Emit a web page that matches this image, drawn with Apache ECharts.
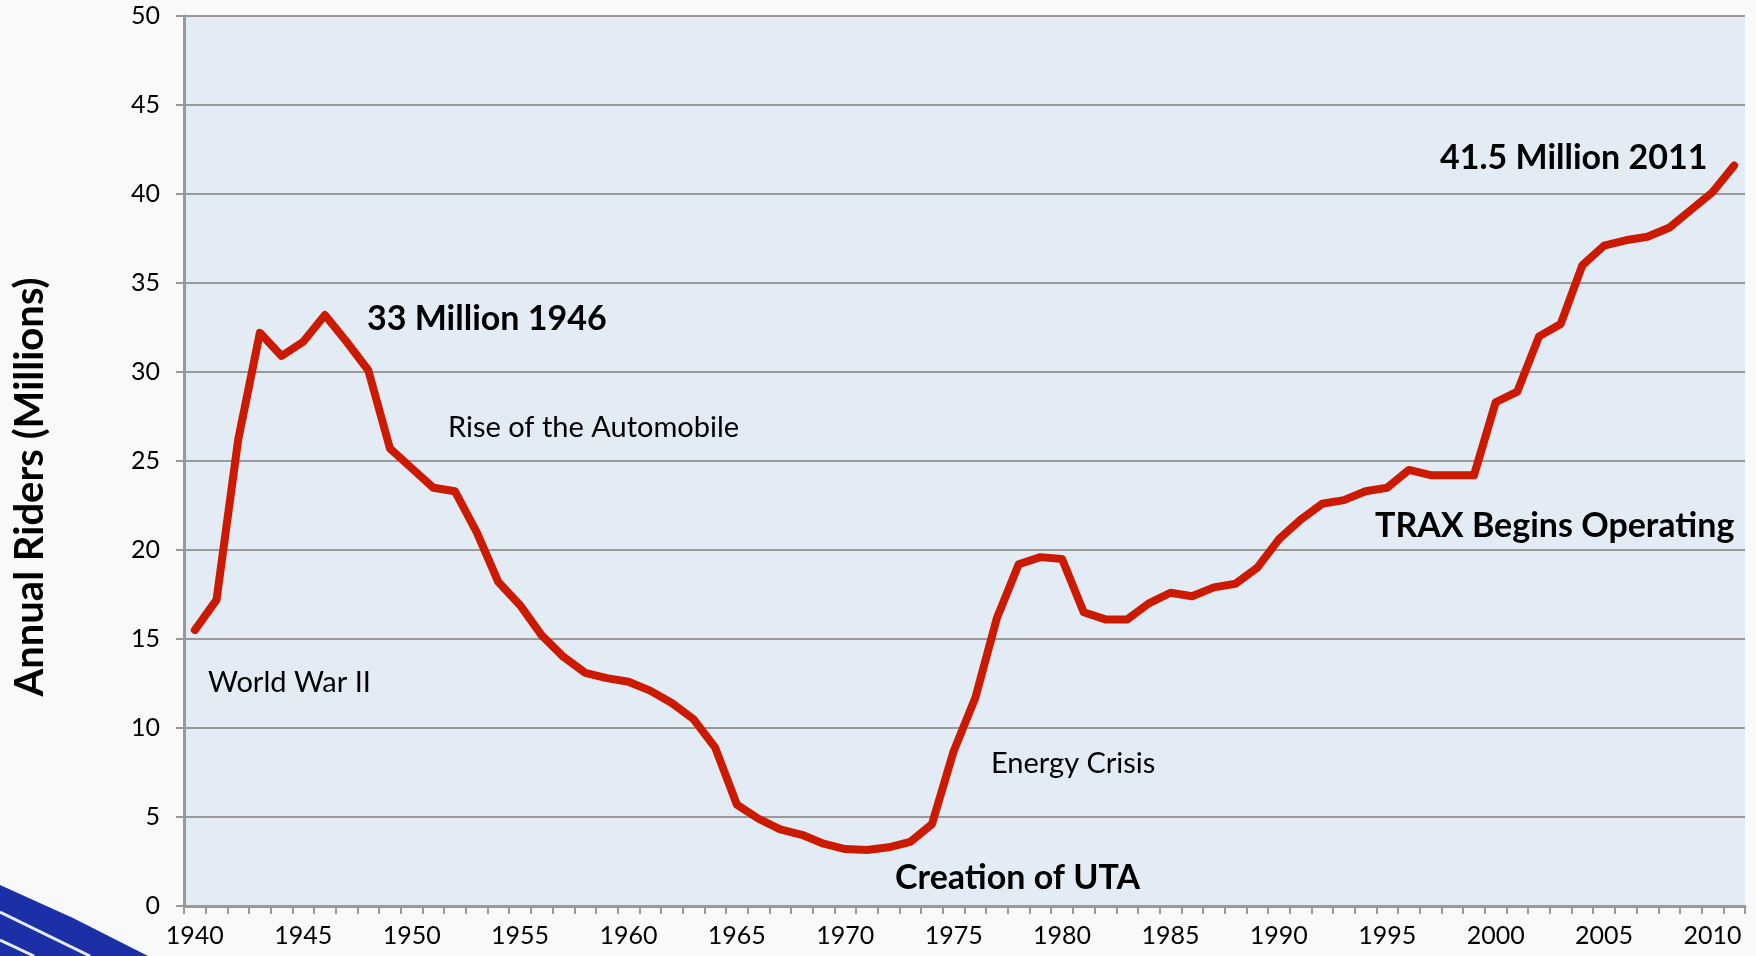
<!DOCTYPE html>
<html>
<head>
<meta charset="utf-8">
<script src="https://cdn.jsdelivr.net/npm/echarts@6/dist/echarts.min.js"></script>
<style>
  html, body { margin: 0; padding: 0; background: #f9f9f9; }
  #chart { width: 1756px; height: 956px; }
</style>
</head>
<body>
<div id="chart"></div>
<script>
// years on the category axis
var years = [];
for (var y = 1940; y <= 2011; y++) years.push(String(y));

// annual riders, millions
var riders = [
  15.5, 17.2, 26.2, 32.2, 30.9, 31.7, 33.2, 31.7, 30.1, 25.7,
  24.6, 23.5, 23.3, 21.0, 18.2, 16.9, 15.2, 14.0, 13.1, 12.8,
  12.6, 12.1, 11.4, 10.5, 8.9, 5.7, 4.9, 4.3, 4.0, 3.5,
  3.2, 3.15, 3.3, 3.6, 4.6, 8.7, 11.7, 16.2, 19.2, 19.6,
  19.5, 16.5, 16.1, 16.1, 17.0, 17.6, 17.4, 17.9, 18.1, 19.0,
  20.6, 21.7, 22.6, 22.8, 23.3, 23.5, 24.5, 24.2, 24.2, 24.2,
  28.3, 28.9, 32.0, 32.7, 36.0, 37.1, 37.4, 37.6, 38.1, 39.1,
  40.1, 41.6
];

// text notes on the chart
var notes = [
  { text: '33 Million 1946', x: 367, y: 319, bold: true },
  { text: 'Rise of the Automobile', x: 448, y: 428, bold: false },
  { text: 'World War II', x: 208, y: 683, bold: false },
  { text: 'Energy Crisis', x: 991, y: 764, bold: false },
  { text: 'Creation of UTA', x: 895, y: 878, bold: true },
  { text: 'TRAX Begins Operating', x: 1375, y: 526, bold: true },
  { text: '41.5 Million 2011', x: 1440, y: 158, bold: true }
];

var FONT = 'Lato, "Open Sans", sans-serif';

var myChart = echarts.init(document.getElementById('chart'));

var noteGraphics = notes.map(function (n) {
  return {
    type: 'text',
    x: n.x,
    y: n.y,
    z: 10,
    style: {
      text: n.text,
      fill: '#000',
      font: (n.bold ? 'bold 34px ' : '29px ') + FONT,
      textAlign: 'left',
      textVerticalAlign: 'middle'
    }
  };
});

var option = {
  backgroundColor: '#f9f9f9',
  animation: false,
  grid: {
    left: 184,
    right: 11,
    top: 16,
    bottom: 50,
    show: true,
    backgroundColor: '#e3ebf5',
    borderWidth: 0
  },
  xAxis: {
    type: 'category',
    data: years,
    boundaryGap: true,
    axisLine: { lineStyle: { color: '#999', width: 3 } },
    axisTick: { show: true, interval: 0, length: 8, lineStyle: { color: '#999', width: 2 } },
    axisLabel: { interval: 4, fontSize: 25, color: '#000', fontFamily: FONT, margin: 17 },
    splitLine: { show: false }
  },
  yAxis: {
    type: 'value',
    min: 0,
    max: 50,
    interval: 5,
    axisLine: { show: true, lineStyle: { color: '#999', width: 3 } },
    axisTick: { show: true, length: 8, lineStyle: { color: '#999', width: 2 } },
    axisLabel: { fontSize: 25, color: '#000', fontFamily: FONT, margin: 24 },
    splitLine: { show: true, lineStyle: { color: '#999', width: 2 } }
  },
  series: [
    {
      type: 'line',
      data: riders,
      symbol: 'none',
      lineStyle: { color: '#cc1a00', width: 8, cap: 'round', join: 'round' },
      z: 5
    }
  ],
  graphic: [
    // blue swoosh in the lower left corner
    {
      type: 'polygon',
      silent: true,
      shape: { points: [[0, 885], [73, 918], [148, 956], [0, 956]] },
      style: { fill: '#1b2fa6' }
    },
    {
      type: 'polyline',
      silent: true,
      shape: { points: [[0, 912], [90, 956]] },
      style: { stroke: '#e8ecf8', lineWidth: 3, fill: null }
    },
    {
      type: 'polyline',
      silent: true,
      shape: { points: [[0, 940], [34, 956]] },
      style: { stroke: '#e8ecf8', lineWidth: 3, fill: null }
    },
    {
      type: 'text',
      x: 30,
      y: 487,
      rotation: Math.PI / 2,
      style: {
        text: 'Annual Riders (Millions)',
        fill: '#000',
        font: 'bold 40px ' + FONT,
        textAlign: 'center',
        textVerticalAlign: 'middle'
      }
    }
  ].concat(noteGraphics)
};

myChart.setOption(option);

window.addEventListener('resize', function () {
  myChart.resize();
});
</script>
</body>
</html>
